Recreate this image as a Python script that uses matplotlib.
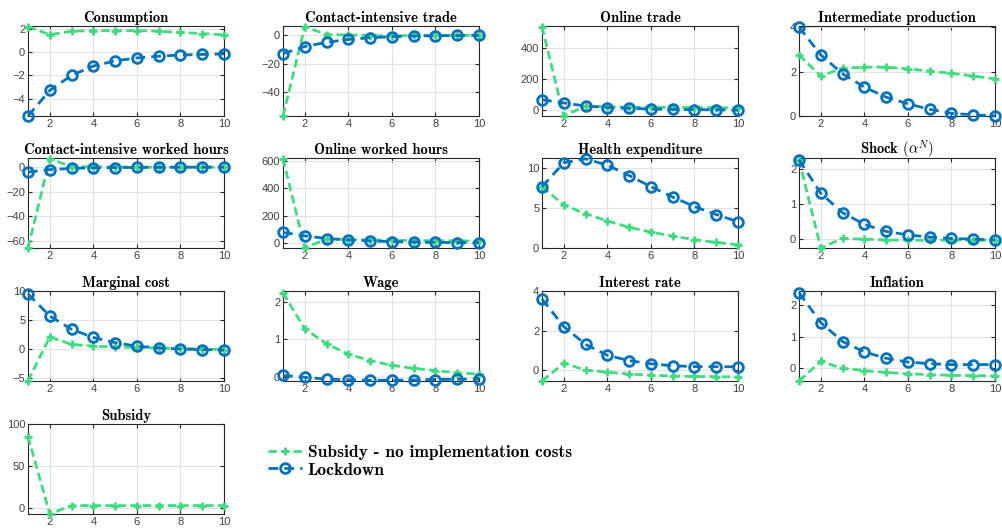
import matplotlib
matplotlib.use("Agg")
import matplotlib.pyplot as plt
from matplotlib.lines import Line2D

plt.rcParams["mathtext.fontset"] = "cm"
plt.rcParams["font.family"] = ["Liberation Sans", "DejaVu Sans"]

# Periods after the shock
periods = [1, 2, 3, 4, 5, 6, 7, 8, 9, 10]

titles = [
    "Consumption", "Contact-intensive trade", "Online trade", "Intermediate production",
    "Contact-intensive worked hours", "Online worked hours", "Health expenditure",
    r"Shock $(\alpha^N)$",
    "Marginal cost", "Wage", "Interest rate", "Inflation",
    "Subsidy",
]

# Subsidy scenario (no implementation costs)
subsidy_resp = [
    [2.2, 1.5, 1.8, 1.85, 1.85, 1.85, 1.8, 1.7, 1.6, 1.5],
    [-57, 6, 0.5, 0.2, -0.3, -0.3, -0.2, -0.1, -0.1, 0],
    [540, -40, 25, 20, 18, 17, 16, 15, 14, 13],
    [2.75, 1.8, 2.15, 2.2, 2.2, 2.12, 2.02, 1.92, 1.8, 1.67],
    [-66, 7, 0.5, 0.3, 0.1, 0, 0, 0, 0, 0],
    [620, -40, 28, 22, 19, 17, 15, 14, 13, 12],
    [7.7, 5.4, 4.3, 3.4, 2.6, 2.0, 1.5, 1.05, 0.7, 0.4],
    [2.25, -0.25, 0.02, 0.0, -0.02, -0.03, -0.03, -0.03, -0.03, -0.03],
    [-5.5, 2.1, 0.8, 0.5, 0.35, 0.3, 0.2, 0.1, 0.0, -0.1],
    [2.25, 1.28, 0.88, 0.6, 0.43, 0.3, 0.22, 0.16, 0.1, 0.07],
    [-0.55, 0.35, 0.0, -0.1, -0.2, -0.25, -0.3, -0.32, -0.33, -0.35],
    [-0.4, 0.22, 0.0, -0.07, -0.13, -0.17, -0.2, -0.22, -0.23, -0.24],
    [85, -7, 3, 3, 3, 3, 3, 3, 3, 3],
]

# Lockdown scenario (no subsidy panel)
lockdown_resp = [
    [-5.5, -3.3, -2.0, -1.2, -0.75, -0.5, -0.35, -0.25, -0.2, -0.15],
    [-13, -8, -5, -3, -1.8, -1.0, -0.6, -0.4, -0.2, -0.1],
    [65, 45, 25, 15, 10, 6, 3, 1, 0, -2],
    [4.0, 2.75, 1.9, 1.3, 0.85, 0.55, 0.3, 0.12, 0.05, 0.0],
    [-4, -2, -1, -0.5, -0.3, -0.2, -0.1, -0.05, 0, 0],
    [75, 50, 30, 20, 12, 8, 4, 2, 0, -2],
    [7.7, 10.7, 11.2, 10.4, 9.1, 7.7, 6.4, 5.2, 4.2, 3.3],
    [2.25, 1.3, 0.75, 0.42, 0.22, 0.12, 0.06, 0.02, 0.0, -0.02],
    [9.5, 5.7, 3.4, 2.0, 1.1, 0.5, 0.2, 0.0, -0.1, -0.15],
    [0.03, -0.02, -0.07, -0.09, -0.1, -0.1, -0.09, -0.08, -0.07, -0.07],
    [3.6, 2.2, 1.3, 0.75, 0.48, 0.32, 0.22, 0.18, 0.17, 0.17],
    [2.4, 1.45, 0.85, 0.52, 0.32, 0.2, 0.15, 0.12, 0.12, 0.12],
    None,
]

y_limits = [
    (-5.5, 2.25), (-57, 6.5), (-40, 545), (0, 4.05),
    (-66, 7.5), (-40, 625), (0, 11.3), (-0.25, 2.3),
    (-5.5, 9.8), (-0.12, 2.3), (-0.55, 4.0), (-0.4, 2.45),
    (-7, 100),
]
y_ticks = [
    [-4, -2, 0, 2], [-40, -20, 0], [0, 200, 400], [0, 2, 4],
    [-60, -40, -20, 0], [0, 200, 400, 600], [0, 5, 10], [0, 1, 2],
    [-5, 0, 5, 10], [0, 1, 2], [0, 2, 4], [0, 1, 2],
    [0, 50, 100],
]

GREEN = "#3ddc7e"
BLUE = "#0072bd"
green_style = dict(color=GREEN, lw=2, marker="+", ms=6, mew=2, dashes=(3, 1.5))
blue_style = dict(color=BLUE, lw=2, marker="o", ms=7, mew=2, mfc="none", dashes=(3.5, 2.2))

W, H = 1003, 530
col_left = [28, 283, 542, 799]
row_top = [26, 158, 291, 424]
ax_w, ax_h = 196, 90

fig = plt.figure(figsize=(W / 100, H / 100), dpi=100)

for k, title in enumerate(titles):
    r, c = divmod(k, 4)
    ax = fig.add_axes([col_left[c] / W, 1 - (row_top[r] + ax_h) / H, ax_w / W, ax_h / H])
    ax.plot(periods, subsidy_resp[k], clip_on=False, zorder=3, **green_style)
    if lockdown_resp[k] is not None:
        ax.plot(periods, lockdown_resp[k], clip_on=False, zorder=4, **blue_style)
    ax.set_xlim(1, 10)
    ax.set_xticks([2, 4, 6, 8, 10])
    ax.set_ylim(*y_limits[k])
    ax.set_yticks(y_ticks[k])
    ax.grid(True, color="#e3e3e3", lw=0.8)
    ax.set_axisbelow(True)
    ax.tick_params(direction="in", top=True, right=True, length=3, labelsize=8,
                   colors="#262626", labelcolor="#404040", pad=2)
    for s in ax.spines.values():
        s.set_color("#262626")
        s.set_linewidth(0.8)
    ax.set_title(title, fontsize=10.5, fontweight="bold",
                 family=["cmb10", "DejaVu Serif"], pad=3)

handles = [
    Line2D([], [], **green_style),
    Line2D([], [], **blue_style),
]
fig.legend(handles, ["Subsidy - no implementation costs", "Lockdown"],
           loc="upper left", bbox_to_anchor=(252 / W, 1 - 429 / H), frameon=False,
           handlelength=2.0, handletextpad=0.3, labelspacing=0.15,
           prop={"family": ["cmb10", "DejaVu Serif"], "weight": "bold", "size": 12.5})

fig.savefig("out.png", dpi=100)
